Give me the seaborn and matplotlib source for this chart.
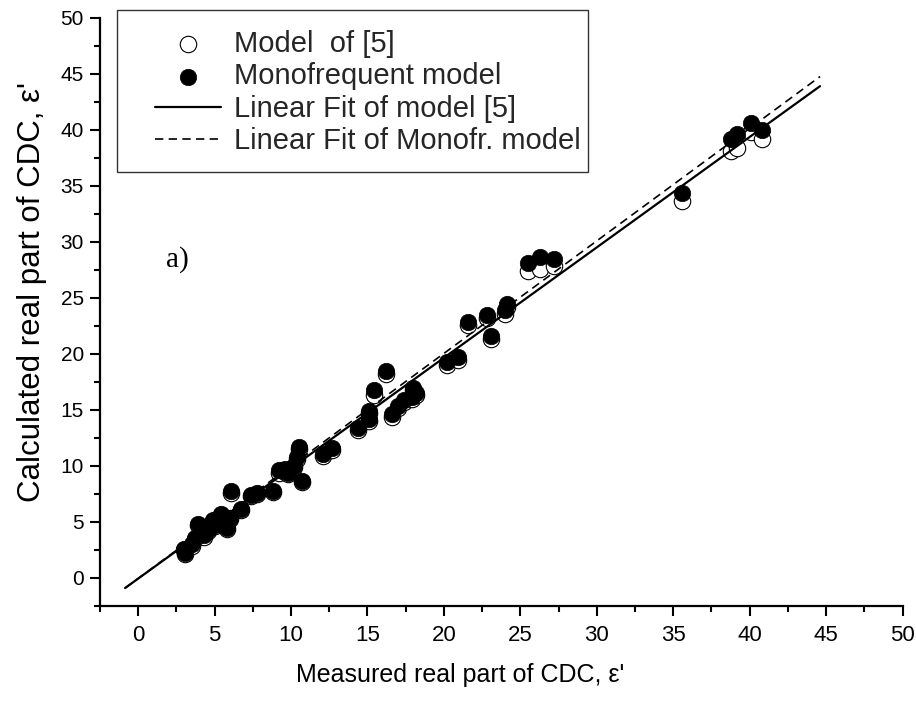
import matplotlib
matplotlib.use("Agg")
import matplotlib.pyplot as plt
import seaborn as sns
import pandas as pd
import numpy as np
from matplotlib.ticker import MultipleLocator
from matplotlib.patches import Rectangle

# ---- data ----
measured = [3.0, 3.1, 3.5, 3.7, 3.9, 4.3, 4.6, 4.9, 5.0, 5.4, 5.8, 6.0, 6.1, 6.7,
            7.4, 7.8, 8.8, 9.2, 9.6, 9.8, 10.2, 10.4, 10.5, 10.7, 12.1, 12.7,
            14.4, 15.1, 15.1, 15.4, 16.2, 16.6, 17.0, 17.4, 17.9, 18.0, 18.2,
            20.2, 20.9, 21.6, 22.8, 23.1, 24.0, 24.1, 25.5, 26.3, 27.2, 35.6,
            38.8, 39.2, 40.1, 40.8]
monofrequent = [2.6, 2.2, 3.0, 3.6, 4.8, 3.8, 4.3, 5.2, 4.7, 5.7, 4.5, 5.4, 7.8, 6.2,
                7.4, 7.6, 7.8, 9.6, 9.7, 9.4, 10.0, 10.8, 11.7, 8.7, 11.1, 11.6,
                13.4, 14.2, 14.9, 16.8, 18.5, 14.6, 15.4, 15.9, 16.2, 17.0, 16.5,
                19.3, 19.7, 22.9, 23.5, 21.6, 23.9, 24.5, 28.1, 28.7, 28.5, 34.4,
                39.2, 39.6, 40.6, 40.0]
model5 = [2.5, 2.1, 2.9, 3.5, 4.7, 3.7, 4.2, 5.1, 4.6, 5.6, 4.4, 5.3, 7.6, 6.1,
          7.3, 7.5, 7.7, 9.4, 9.5, 9.3, 9.9, 10.6, 11.5, 8.6, 10.9, 11.4,
          13.2, 14.0, 14.7, 16.3, 18.2, 14.4, 15.2, 15.7, 16.0, 16.8, 16.3,
          19.0, 19.5, 22.6, 23.2, 21.3, 23.6, 24.2, 27.4, 27.6, 27.9, 33.7,
          38.1, 38.4, 39.8, 39.2]
# linear fits (slope, intercept)
fit_model5 = [0.986, -0.06]
fit_mono = [1.005, -0.05]
fit_x_range = [-0.85, 44.6]
ticks = [0, 5, 10, 15, 20, 25, 30, 35, 40, 45, 50]

sns.set_theme(style="ticks")
plt.rcParams["font.family"] = ["Liberation Sans", "DejaVu Sans"]

fig = plt.figure(figsize=(9.16, 7.03), dpi=100)
ax = fig.add_axes([0.1090, 0.1380, 0.8764, 0.8364])

df = pd.DataFrame({"measured": measured, "mono": monofrequent, "m5": model5})

sns.scatterplot(data=df, x="measured", y="m5", ax=ax, s=140, marker="o",
                facecolor="white", edgecolor="black", linewidth=0.8,
                label="Model  of [5]", zorder=3)
sns.scatterplot(data=df, x="measured", y="mono", ax=ax, s=140, marker="o",
                color="black", edgecolor="black", linewidth=0.5,
                label="Monofrequent model", zorder=4)

fx = np.array(fit_x_range)
fit_df = pd.DataFrame({"x": fx,
                       "y5": fit_model5[0] * fx + fit_model5[1],
                       "ym": fit_mono[0] * fx + fit_mono[1]})
sns.lineplot(data=fit_df, x="x", y="y5", ax=ax, color="black", linewidth=1.6,
             label="Linear Fit of model [5]", zorder=5)
sns.lineplot(data=fit_df, x="x", y="ym", ax=ax, color="black", linewidth=1.2,
             dashes=False, label="Linear Fit of Monofr. model", zorder=5)
ax.lines[-1].set_dashes((5.0, 3.2))

ax.set_xlim(-2.5, 50)
ax.set_ylim(-2.5, 50)
ax.set_xticks(ticks)
ax.set_yticks(ticks)
ax.xaxis.set_minor_locator(MultipleLocator(2.5))
ax.yaxis.set_minor_locator(MultipleLocator(2.5))
ax.tick_params(which="major", direction="out", length=7.5, width=1.5, colors="black")
ax.tick_params(which="minor", direction="out", length=4, width=1.5, colors="black")
for lab in ax.get_xticklabels():
    lab.set_fontsize(16)
for lab in ax.get_yticklabels():
    lab.set_fontsize(15)
ax.tick_params(axis="x", pad=6)
ax.tick_params(axis="y", pad=4)

for side in ["top", "right"]:
    ax.spines[side].set_visible(False)
for side in ["left", "bottom"]:
    ax.spines[side].set_linewidth(1.6)
    ax.spines[side].set_color("black")
ax.grid(False)

ax.set_xlabel("Measured real part of CDC, ε'", fontsize=18, color="black")
ax.xaxis.set_label_coords(0.449, -0.097)
ax.set_ylabel("Calculated real part of CDC, ε'", fontsize=22.5, color="black")
ax.yaxis.set_label_coords(-0.066, 0.534)

ax.text(2.6, 28.4, "a)", fontsize=21, family=["Liberation Serif", "DejaVu Serif"],
        ha="center", va="center", color="black")

leg = ax.legend(loc="upper left", bbox_to_anchor=(155 / 916, 1 - 30 / 703),
                bbox_transform=fig.transFigure, frameon=False, fontsize=21,
                borderpad=0, borderaxespad=0, labelspacing=0.15,
                handlelength=2.25, handletextpad=0.45)
fig.patches.append(Rectangle((117 / 916, 1 - 172 / 703), (588 - 117) / 916,
                             (172 - 10) / 703, transform=fig.transFigure,
                             fill=False, edgecolor="#333333", linewidth=1.0,
                             figure=fig))

fig.savefig("out.png", dpi=100, facecolor="white")
